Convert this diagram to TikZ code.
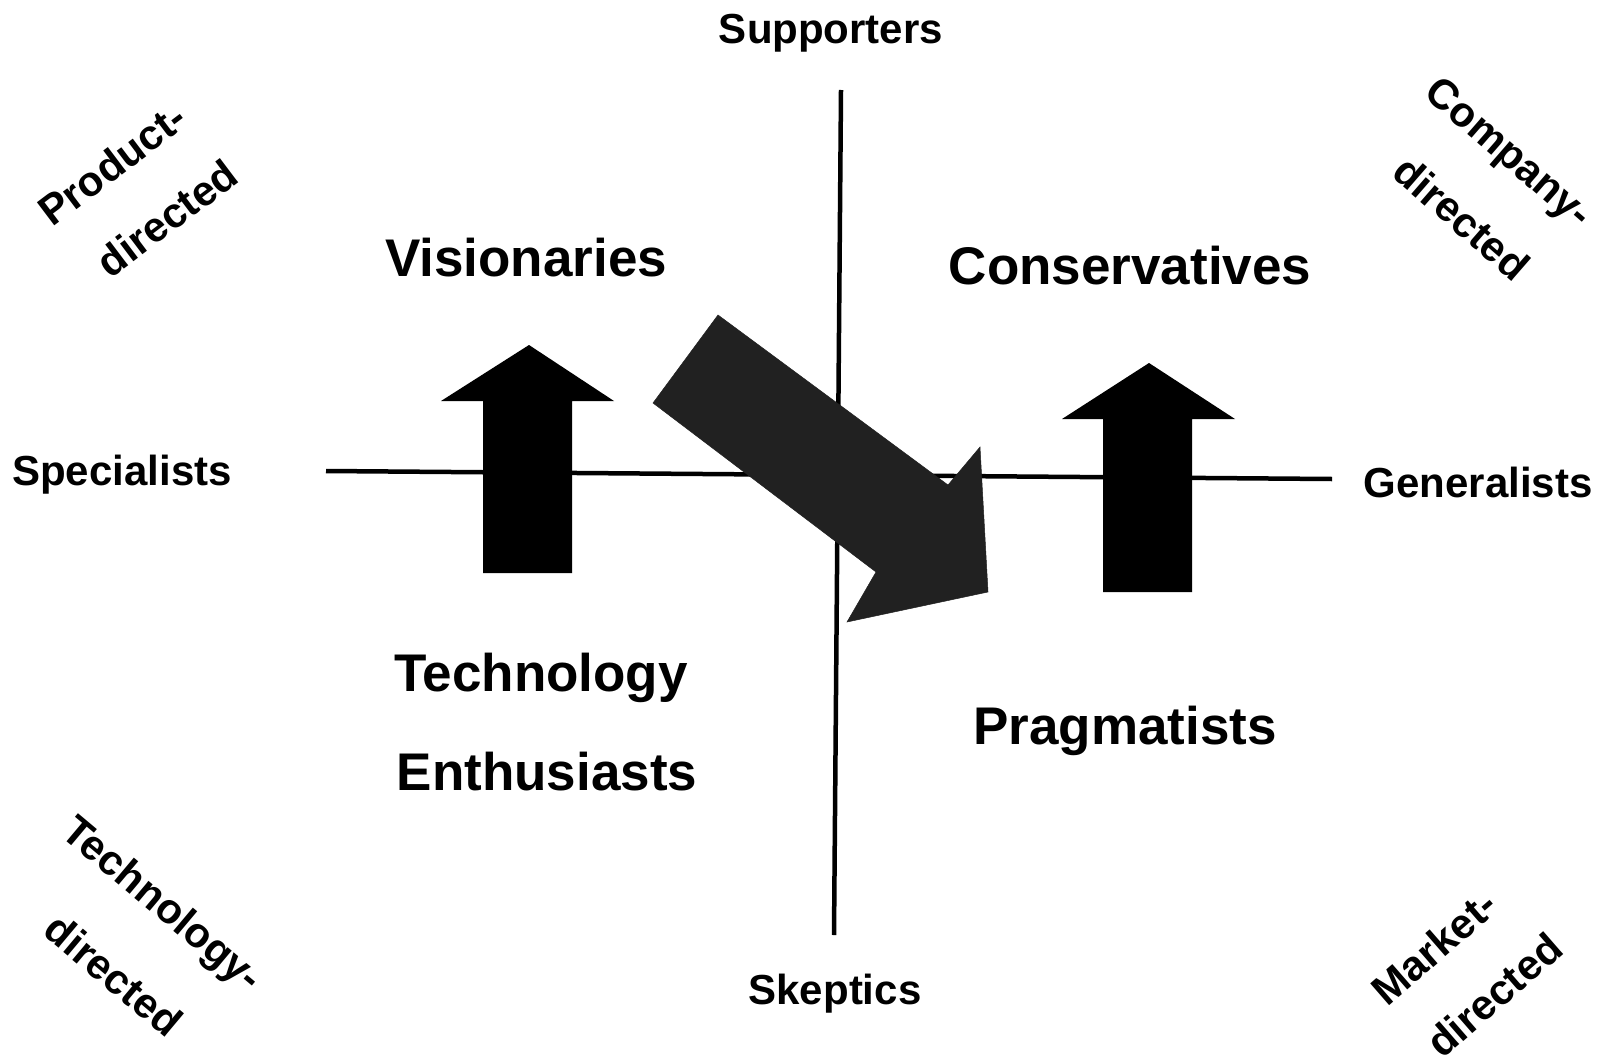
\documentclass[tikz,border=0pt]{standalone}
\usepackage{fontspec}
\setmainfont{Liberation Sans}
\begin{document}
\begin{tikzpicture}[x=1pt,y=-1pt,
  small/.style={font=\bfseries\fontsize{42}{50}\selectfont, inner sep=0pt},
  big/.style={font=\bfseries\fontsize{53}{62}\selectfont, inner sep=0pt},
  axisline/.style={line width=4.5pt},
  solidarrow/.style={fill=black, draw=none},
  shiftarrow/.style={fill=black!87, draw=black!87, line width=0.5pt, line join=miter}]
\useasboundingbox (0,0) rectangle (1597,1062);
\clip (0,0) rectangle (1597,1062);

% axes
\coordinate (hl) at (326,471);
\coordinate (hr) at (1332,479);
\coordinate (vt) at (841,90);
\coordinate (vb) at (834,935);
\draw[axisline] (hl) -- (hr);
\draw[axisline] (vt) -- (vb);

% axis labels
\node[small] (supporters) at (831,33) {Supporters};
\node[small] (skeptics) at (835,994) {Skeptics};
\node[small] (specialists) at (122,475) {Specialists};
\node[small] (generalists) at (1478,482) {Generalists};

% quadrant labels
\node[big] (visionaries) at (526,258) {Visionaries};
\node[big] (conservatives) at (1130,266) {Conservatives};
\node[big] (technology) at (541,678) {Technology};
\node[big] (enthusiasts) at (547,772) {Enthusiasts};
\node[big] (pragmatists) at (1125,731) {Pragmatists};

% diagonal labels
\node[small, rotate=37] (prod1) at (112,164) {Product-};
\node[small, rotate=37] (prod2) at (167,218) {directed};
\node[small, rotate=-41] (comp1) at (1507,155) {Company-};
\node[small, rotate=-41] (comp2) at (1462,218) {directed};
\node[small, rotate=-40] (tech1) at (161,906) {Technology-};
\node[small, rotate=-40] (tech2) at (114,975) {directed};
\node[small, rotate=41] (mark1) at (1434,947) {Market-};
\node[small, rotate=41] (mark2) at (1494,995) {directed};

% upward arrows
\fill[solidarrow] (483,573) -- (483,401) -- (441,401) -- (529,345) -- (614,401)
  -- (572,401) -- (572,573) -- cycle;
\fill[solidarrow] (1103,592) -- (1103,419) -- (1062,419) -- (1149,363) -- (1235,419)
  -- (1192,419) -- (1192,592) -- cycle;

% diagonal shift arrow
\filldraw[shiftarrow] (718,315) -- (948,485) -- (980,447) -- (988,592) -- (847,622)
  -- (876,572) -- (653,403) -- cycle;
\end{tikzpicture}
\end{document}
